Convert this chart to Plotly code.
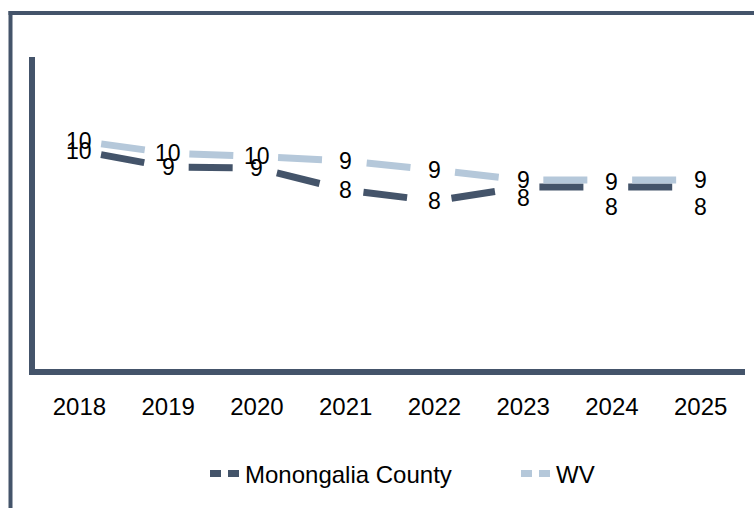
import plotly.graph_objects as go

# ---- data ----
years = ["2018", "2019", "2020", "2021", "2022", "2023", "2024", "2025"]
monongalia = [9.84, 9.11, 9.07, 8.09, 7.60, 8.22, 8.22, 8.22]
wv = [10.27, 9.73, 9.58, 9.38, 8.98, 8.53, 8.53, 8.53]
series_names = ["Monongalia County", "WV"]

# ---- style ----
DARK = "#44546A"
LIGHT = "#B5C8DA"
FONT = "Liberation Sans, Arial, sans-serif"
W, H = 754, 508
ML, MR, MT, MB = 35, 9, 57, 139
DASH = "0px,22px,44px,22.8px"
LEGEND_DASH = "11px,7px"
# vertical label shifts (px, downward) per point
mon_label_shift = [0, 0, 0, 0, 0, 11, 20, 20]
wv_label_shift = [0, 0, 0, 0, 0, 0, 2, 0]

fig = go.Figure()
colors = [DARK, LIGHT]
legend_ids = ["legend", "legend2"]
for name, vals, color in zip(series_names, [monongalia, wv], colors):
    fig.add_trace(go.Scatter(
        x=years, y=vals, mode="lines", name=name, showlegend=False,
        line=dict(color=color, width=7, dash=DASH),
    ))
# legend entries (no data, symbol only), one legend box per entry
for name, color, lid in zip(series_names, colors, legend_ids):
    fig.add_trace(go.Scatter(
        x=[None], y=[None], mode="lines", name=name, showlegend=True, legend=lid,
        line=dict(color=color, width=7, dash=LEGEND_DASH),
    ))

annotations = []
for vals, shifts in [(wv, wv_label_shift), (monongalia, mon_label_shift)]:
    for i, (v, s) in enumerate(zip(vals, shifts)):
        annotations.append(dict(
            x=i, y=v, xref="x", yref="y", text=f"{v:.0f}", showarrow=False,
            yshift=-s, font=dict(family=FONT, size=23, color="#000000"),
        ))

pw = W - ML - MR
ph = H - MT - MB
def px_x(p):
    return (p - ML) / pw
def px_y(p):
    return (H - MB - p) / ph

shapes = [
    dict(type="line", xref="paper", yref="paper",
         x0=px_x(10.5), x1=px_x(10.5), y0=px_y(510), y1=px_y(11),
         line=dict(color=DARK, width=4)),
    dict(type="line", xref="paper", yref="paper",
         x0=px_x(8.5), x1=px_x(756), y0=px_y(13), y1=px_y(13),
         line=dict(color=DARK, width=4)),
]

legend_common = dict(orientation="h", xanchor="left", yanchor="middle", y=px_y(474),
                     font=dict(family=FONT, size=24, color="#000000"),
                     bgcolor="rgba(0,0,0,0)")

fig.update_layout(
    width=W, height=H,
    margin=dict(l=ML, r=MR, t=MT, b=MB, autoexpand=False),
    paper_bgcolor="white", plot_bgcolor="white",
    font=dict(family=FONT, size=24, color="#000000"),
    showlegend=True,
    legend=dict(x=px_x(205), **legend_common),
    legend2=dict(x=px_x(516), **legend_common),
    xaxis=dict(type="category", range=[-0.5, 7.5], showgrid=False, zeroline=False,
               showline=True, linecolor=DARK, linewidth=6, ticks="",
               ticklabelstandoff=11, tickfont=dict(family=FONT, size=24, color="#000000")),
    yaxis=dict(range=[0.133, 14], showgrid=False, zeroline=False, showticklabels=False,
               showline=True, linecolor=DARK, linewidth=6, ticks=""),
    annotations=annotations,
    shapes=shapes,
)

fig.write_html("out.html", config={"displayModeBar": False},
               post_script="document.body.style.margin='0px';")
